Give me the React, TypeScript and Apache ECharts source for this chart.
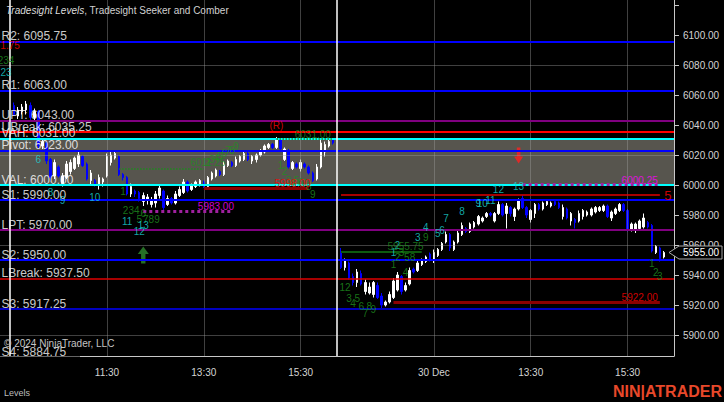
import React, { useEffect, useRef } from 'react';
import * as echarts from 'echarts';

const FONT = '"Liberation Sans", Arial, sans-serif';

// Pivot levels
const levelNames = ['R2', 'R1', 'UPT', 'UBreak', 'VAH', 'Pivot', 'VAL', 'S1', 'LPT', 'S2', 'LBreak', 'S3', 'S4'];
const levelValues = [6095.75, 6063, 6043, 6035.25, 6031, 6023, 6000, 5990, 5970, 5950, 5937.5, 5917.25, 5884.75];
const valueAreaHigh = 6031;
const valueAreaLow = 6000;

// 5-minute bars, [open, high, low, close]; day 1 = bars 1..80, day 2 = bars 82..162
const day1Bars: number[][] = [
  [6053, 6055, 6046, 6047], [6046, 6052, 6044, 6050], [6049, 6054, 6047, 6052], [6050, 6056, 6047, 6054],
  [6053, 6055, 6043, 6045], [6045, 6051, 6043, 6049], [6049, 6050, 6024, 6026], [6026, 6031, 6024, 6029],
  [6028, 6029, 6014, 6016], [6017, 6018, 6003, 6005], [6006, 6017, 6004, 6015], [6012, 6013, 6005, 6006],
  [6001, 6008, 5999, 6006], [6005, 6016, 6004, 6014], [6009, 6017, 6007, 6015], [6011, 6019, 6010, 6018],
  [6014, 6022, 6012, 6020], [6019, 6020, 6012, 6013], [6014, 6015, 6003, 6004], [6003, 6010, 6000, 6008],
  [6003, 6004, 5999, 6000], [6000, 6007, 5997, 6005], [6002, 6005, 5999, 6004], [6006, 6021, 6005, 6019],
  [6015, 6022, 6013, 6020], [6018, 6023, 6017, 6021], [6019, 6020, 6006, 6007], [6007, 6008, 6003, 6005],
  [6005, 6006, 5993, 5994], [5994, 6001, 5992, 5999], [5996, 5997, 5992, 5994], [5995, 5996, 5989, 5991],
  [5989, 5995, 5986, 5993], [5990, 5994, 5987, 5992], [5987, 5992, 5985, 5990], [5988, 5996, 5985, 5994],
  [5993, 6000, 5991, 5998], [5996, 5997, 5983, 5985], [5987, 5993, 5986, 5991], [5991, 5992, 5987, 5988],
  [5988, 5996, 5987, 5994], [5993, 5999, 5992, 5997], [5995, 6004, 5994, 6002], [6002, 6003, 5995, 5996],
  [5997, 6001, 5996, 6000], [5999, 6003, 5998, 6002], [6000, 6004, 5999, 6003], [6002, 6003, 5998, 5999],
  [5999, 6006, 5998, 6005], [6004, 6009, 6003, 6008], [6006, 6011, 6005, 6010], [6009, 6010, 6006, 6007],
  [6007, 6016, 6006, 6014], [6013, 6017, 6012, 6016], [6015, 6016, 6012, 6013], [6013, 6019, 6012, 6017],
  [6016, 6020, 6015, 6019], [6017, 6022, 6016, 6021], [6021, 6022, 6016, 6017], [6016, 6020, 6014, 6019],
  [6017, 6021, 6015, 6020], [6020, 6024, 6019, 6023], [6022, 6027, 6021, 6026], [6025, 6028, 6024, 6027],
  [6027, 6028, 6024, 6025], [6025, 6032, 6024, 6030], [6030, 6031, 6023, 6024], [6017, 6025, 6016, 6024],
  [6023, 6024, 6011, 6012], [6011, 6016, 6010, 6015], [6014, 6015, 6011, 6012], [6011, 6017, 6009, 6015],
  [6014, 6015, 6011, 6012], [6012, 6013, 6007, 6008], [6008, 6009, 6002, 6003], [6004, 6014, 6003, 6012],
  [6012, 6030, 6011, 6028], [6022, 6029, 6019, 6027], [6026, 6030, 6025, 6029], [6030, 6031, 6027, 6028],
];
const day2Bars: number[][] = [
  [5955, 5958, 5944, 5945], [5945, 5951, 5943, 5950], [5948, 5949, 5937, 5938], [5939, 5941, 5933, 5935],
  [5935, 5944, 5932, 5942], [5941, 5943, 5933, 5934], [5929, 5937, 5927, 5935], [5928, 5935, 5927, 5932],
  [5927, 5936, 5925, 5935], [5933, 5935, 5924, 5925], [5926, 5928, 5918, 5920], [5920, 5923, 5919, 5922],
  [5922, 5929, 5921, 5927], [5925, 5938, 5924, 5936], [5930, 5942, 5929, 5940], [5939, 5940, 5927, 5929],
  [5930, 5935, 5929, 5933], [5934, 5945, 5933, 5943], [5944, 5945, 5941, 5942], [5943, 5950, 5942, 5948],
  [5947, 5951, 5946, 5950], [5949, 5953, 5948, 5952], [5954, 5955, 5949, 5950], [5950, 5957, 5948, 5955],
  [5953, 5958, 5952, 5957], [5957, 5962, 5956, 5961], [5962, 5969, 5961, 5967], [5967, 5968, 5956, 5958],
  [5957, 5963, 5956, 5962], [5962, 5970, 5961, 5968], [5967, 5975, 5966, 5973], [5971, 5972, 5968, 5969],
  [5969, 5975, 5968, 5974], [5972, 5976, 5971, 5975], [5974, 5980, 5973, 5979], [5976, 5979, 5975, 5978],
  [5979, 5982, 5978, 5981], [5981, 5982, 5979, 5980], [5976, 5982, 5975, 5981], [5981, 5989, 5980, 5987],
  [5987, 5988, 5979, 5980], [5981, 5988, 5971, 5986], [5985, 5986, 5979, 5981], [5979, 5985, 5976, 5984],
  [5984, 5991, 5983, 5990], [5991, 5993, 5984, 5985], [5985, 5986, 5978, 5980], [5977, 5984, 5975, 5983],
  [5981, 5988, 5978, 5987], [5987, 5988, 5983, 5984], [5984, 5989, 5983, 5988], [5987, 5990, 5986, 5989],
  [5986, 5989, 5985, 5988], [5989, 5990, 5986, 5987], [5988, 5989, 5984, 5985], [5979, 5987, 5977, 5985],
  [5984, 5985, 5977, 5978], [5976, 5982, 5973, 5981], [5977, 5978, 5971, 5975], [5976, 5983, 5975, 5981],
  [5979, 5984, 5977, 5983], [5980, 5983, 5979, 5982], [5980, 5985, 5979, 5984], [5982, 5986, 5981, 5985],
  [5983, 5986, 5982, 5985], [5983, 5987, 5982, 5986], [5986, 5987, 5978, 5979], [5978, 5983, 5976, 5982],
  [5981, 5985, 5980, 5984], [5983, 5988, 5982, 5987], [5987, 5988, 5982, 5983], [5983, 5984, 5969, 5970],
  [5970, 5975, 5969, 5974], [5970, 5975, 5968, 5974], [5971, 5977, 5970, 5976], [5972, 5981, 5971, 5978],
  [5975, 5976, 5971, 5972], [5973, 5974, 5955, 5956], [5955, 5960, 5954, 5959], [5958, 5959, 5949, 5951],
  [5952, 5956, 5951, 5955],
];
const lastPrice = 5955;

// time axis
const axisTimeCats = ['D1 11:30', 'D1 13:30', 'D1 15:30', 'D2 11:30', 'D2 13:30', 'D2 15:30'];
const axisTimeLabels = ['11:30', '13:30', '15:30', '30 Dec', '13:30', '15:30'];
const sessionStarts = ['D1 09:30', 'D2 09:30'];
const gridPrices = [6080, 6020, 5960, 5900];

// annotations [bar, price, text]
const greenCounts: [number, number, string][] = [
  [-0.9, 6083.3, '234'], [28.0, 5996, '1'], [30.0, 5983.3, '234'], [31.8, 5977.3, '5'], [32.8, 5981, '6'],
  [34.9, 5976.7, '789'], [48.8, 6014.7, '2'], [49.8, 6016.7, '3'], [50.6, 6018, '4'], [51.5, 6019.3, '5'],
  [53.0, 6021.3, '6'], [54.2, 6022.7, '7'], [55.2, 6023.3, '8'], [56.3, 6026, '9'], [66.9, 6013.3, '1'],
  [67.9, 6008.7, '2'], [68.9, 6002.7, '3'], [70.1, 6001.3, '4'], [71.3, 6002.7, '5'], [72.3, 6002, '6'],
  [73.3, 6000.7, '7'], [74.3, 5999.3, '8'], [75.1, 5994, '9'], [82.5, 5932, '12'], [83.7, 5924.4, '3'],
  [84.8, 5921.1, '4'], [85.9, 5924.4, '5'], [86.7, 5918.9, '6'], [87.9, 5914.4, '7'], [88.8, 5918.9, '8'],
  [89.8, 5916.7, '9'], [94.9, 5946.7, '1'], [95.9, 5952, '2'], [96.8, 5955.3, '3'], [97.8, 5942, '4'],
  [99.1, 5952, '58'], [102.6, 5964.7, '9'], [158.8, 5948, '1'], [159.8, 5942, '2'], [160.8, 5939.3, '3'],
];
const cyanCounts: [number, number, string][] = [
  [-1.4, 6075.3, '23'], [6.9, 6017.3, '6'], [10.1, 5995.3, '8'], [12.8, 5989.5, '9'], [21.0, 5991.5, '10'],
  [28.9, 5975.5, '11'], [32.2, 5969.3, '12'], [33.0, 5972.7, '13'], [94.9, 5955.3, '1'], [95.9, 5960, '2'],
  [100.8, 5965.3, '3'], [102.6, 5972, '4'], [105.8, 5968, '5'], [106.8, 5970, '6'], [107.8, 5978, '7'],
  [112.0, 5982.2, '8'], [116.0, 5988, '9'], [117.4, 5988, '10'], [118.9, 5990, '11'], [120.9, 5997.3, '12'],
  [125.8, 5998.7, '13'],
];
const redNotes: [number, number, string][] = [
  [-0.5, 6093.3, '1.75'], [65.9, 6040, '(R)'], [69.9, 6000.7, '5998.00'], [156.3, 5924.7, '5922.00'],
];
const redBigNotes: [number, number, string][] = [[162.8, 5992.7, '5']];
const magentaNotes: [number, number, string][] = [[50.5, 5986, '5983.00'], [156.3, 6003.3, '6000.25']];
const greenNotes: [number, number, string][] = [
  [74.6, 6033.8, '6031.00'], [48.5, 6014.7, '6011.25'], [97.8, 5958.9, '5955.75'],
];
// drawn segments [fromBar, toBar, price]
const greenDottedSegs = [[27, 48, 6011], [66, 80, 6031]];
const darkRedSegs = [[48, 74, 5998], [95, 161, 5922]];
const magentaDottedSegs = [[33, 55, 5982.5], [127, 161, 6000.25]];
const darkGreenSegs = [[82, 102, 5955.75]];
const redSegs = [[82, 161, 5993.2]];
const upArrows = [[33, 5953.3]];
const downArrows = [[126, 6019.7]];

const PRE = 2;
const N = 167;
const pad = (n: number) => String(n).padStart(2, '0');
const hm = (m: number) => `${pad(Math.floor(m / 60))}:${pad(m % 60)}`;
const cats: string[] = [];
for (let i = 0; i < N; i++) {
  const k = i - PRE;
  if (k < 0) cats.push(`P${i}`);
  else if (k <= 80) cats.push(`D1 ${hm(570 + 5 * k)}`);
  else cats.push(`D2 ${hm(570 + 5 * (k - 81))}`);
}
const tickMap: Record<string, string> = {};
axisTimeCats.forEach((c, j) => (tickMap[c] = axisTimeLabels[j]));

const levelStyle: Record<string, [string, number]> = {
  R2: ['#0000ff', 2], R1: ['#0000ff', 2], UPT: ['#800080', 2], UBreak: ['#ff0000', 2], VAH: ['#00ffff', 2],
  Pivot: ['#0000ff', 2], VAL: ['#00ffff', 2], S1: ['#0000ff', 2], LPT: ['#800080', 2], S2: ['#0000ff', 2],
  LBreak: ['#e00000', 1.5], S3: ['#0000ff', 1.5], S4: ['#0000ff', 1.5],
};

const YMIN = 5886;
const YMAX = 6123.3333;

function segs(list: number[][], color: string, width: number, type: string) {
  return list.map(([a, b, v]) => [
    { coord: [a + PRE, v], lineStyle: { color, width, type } },
    { coord: [b + PRE, v] },
  ]);
}

function textSeries(list: [number, number, string][], color: string, size: number, z = 6): any {
  return {
    type: 'scatter', z, silent: true, clip: false, symbolSize: 1,
    itemStyle: { color: 'rgba(0,0,0,0)' },
    data: list.map(([k, p]) => [k + PRE, p]),
    label: {
      show: true, position: 'inside', color, fontSize: size, fontFamily: FONT,
      formatter: (p: any) => list[p.dataIndex][2],
    },
  };
}

function buildOption(): any {
  const candles = [
    ...day1Bars.map((b, j) => [j + 1 + PRE, b[0], b[3], b[2], b[1]]),
    ...day2Bars.map((b, j) => [j + 82 + PRE, b[0], b[3], b[2], b[1]]),
  ];
  const arrowPath = 'path://M5,0L10,7L7,7L7,16L3,16L3,7L0,7Z';
  return {
    animation: false,
    backgroundColor: '#000000',
    textStyle: { fontFamily: FONT },
    grid: { left: 0, right: 50, top: 0, bottom: 46 },
    xAxis: {
      type: 'category', data: cats, boundaryGap: true,
      axisLine: { lineStyle: { color: '#c8c8c8', width: 1 } },
      axisTick: {
        alignWithLabel: true, length: 5, lineStyle: { color: '#c8c8c8' },
        interval: (_i: number, v: string) => v in tickMap,
      },
      axisLabel: {
        interval: (_i: number, v: string) => v in tickMap,
        formatter: (v: string) => tickMap[v] || '',
        color: '#d4d4d4', fontSize: 10, margin: 11, fontFamily: FONT,
      },
      splitLine: { show: false },
    },
    yAxis: {
      type: 'value', position: 'right', min: YMIN, max: YMAX, minInterval: 20, maxInterval: 20,
      axisLine: { show: true, lineStyle: { color: '#c8c8c8' } },
      axisTick: { show: true, length: 5, lineStyle: { color: '#c8c8c8' } },
      axisLabel: {
        color: '#d4d4d4', fontSize: 10, margin: 9, showMinLabel: false, showMaxLabel: false, fontFamily: FONT,
        formatter: (v: number) => (v > 6110 || v < 5890 ? '' : v.toFixed(2)),
      },
      splitLine: { show: false },
    },
    series: [
      {
        type: 'scatter', data: [], z: 0, silent: true,
        markArea: {
          silent: true, itemStyle: { color: '#57554e' },
          data: [[{ yAxis: valueAreaHigh }, { yAxis: valueAreaLow }]],
        },
      },
      {
        type: 'scatter', data: [], z: 1, silent: true,
        markLine: {
          silent: true, symbol: ['none', 'none'], label: { show: false },
          lineStyle: { color: 'rgba(160,160,160,0.4)', width: 1, type: 'solid' },
          data: [...gridPrices.map((v) => ({ yAxis: v })), ...axisTimeCats.map((c) => ({ xAxis: c }))],
        },
      },
      {
        type: 'scatter', data: [], z: 2, silent: true,
        markLine: {
          silent: true, symbol: ['none', 'none'], label: { show: false },
          data: [
            ...levelValues
              .map((v, j) => ({ v, name: levelNames[j] }))
              .filter((o) => o.v > YMIN)
              .map((o) => ({
                yAxis: o.v,
                lineStyle: { color: levelStyle[o.name][0], width: levelStyle[o.name][1], type: 'solid' },
              })),
            ...sessionStarts.map((c) => ({ xAxis: c, lineStyle: { color: '#ffffff', width: 1.5, type: 'solid' } })),
            ...segs(greenDottedSegs, '#1f8a1f', 1.5, 'dotted'),
            ...segs(darkRedSegs, '#8b0000', 3, 'solid'),
            ...segs(darkGreenSegs, '#0d5a0d', 2, 'solid'),
            ...segs(redSegs, '#e00000', 1.5, 'solid'),
            ...segs(magentaDottedSegs, '#a020a0', 3, 'dotted'),
          ],
        },
      },
      {
        type: 'candlestick', z: 3, silent: true,
        data: candles,
        encode: { x: 0, y: [1, 2, 3, 4] },
        barWidth: 2,
        itemStyle: { color: '#ffffff', color0: '#0000ff', borderColor: '#ffffff', borderColor0: '#0000ff', borderWidth: 1 },
      },
      {
        type: 'scatter', z: 4, silent: true, symbol: arrowPath, symbolSize: [11, 17],
        itemStyle: { color: '#2e8b2e' },
        data: upArrows.map(([k, p]) => [k + PRE, p]),
      },
      {
        type: 'scatter', z: 4, silent: true, symbol: arrowPath, symbolSize: [9, 16], symbolRotate: 180,
        itemStyle: { color: '#ff2020' },
        data: downArrows.map(([k, p]) => [k + PRE, p]),
      },
      textSeries(greenCounts, '#1f8f1f', 10),
      textSeries(cyanCounts, '#19d2d2', 10),
      textSeries(redNotes, '#ff0000', 10),
      textSeries(redBigNotes, '#ff0000', 13),
      textSeries(magentaNotes, '#ff00ff', 10),
      textSeries(greenNotes, '#1f8a1f', 10),
      {
        type: 'scatter', z: 8, silent: true, clip: false, symbolSize: 1,
        itemStyle: { color: 'rgba(0,0,0,0)' },
        data: levelValues.map((v) => [0, v]),
        label: {
          show: true, position: [0, 1], align: 'left', verticalAlign: 'bottom',
          color: '#ffffff', fontSize: 12, fontFamily: FONT,
          formatter: (p: any) => `${levelNames[p.dataIndex]}: ${levelValues[p.dataIndex].toFixed(2)}`,
        },
      },
    ],
  };
}

export default function App() {
  const ref = useRef<HTMLDivElement>(null);
  useEffect(() => {
    document.body.style.margin = '0';
    document.body.style.background = '#000';
    const chart = echarts.init(ref.current!, null, { renderer: 'svg' });
    chart.setOption(buildOption());
    const lastIdx = 81 + day2Bars.length + PRE;
    const pt = chart.convertToPixel({ xAxisIndex: 0, yAxisIndex: 0 }, [lastIdx, lastPrice]) as number[];
    const py = pt[1];
    chart.setOption({
      graphic: [
        {
          type: 'text', x: 6, y: 10, z: 100,
          style: {
            text: '{a|Tradesight Levels}{b|, Tradesight Seeker and Comber}',
            verticalAlign: 'middle', font: `10px ${FONT}`,
            rich: {
              a: { fontStyle: 'italic', fill: '#dcdcdc', fontSize: 10, fontFamily: FONT },
              b: { fill: '#d0d0d0', fontSize: 10, fontFamily: FONT },
            },
          },
        },
        {
          type: 'text', x: 4, y: 343, z: 100,
          style: { text: '© 2024 NinjaTrader, LLC', fill: '#c4c4c4', fontSize: 10, fontFamily: FONT, verticalAlign: 'middle' },
        },
        { type: 'rect', z: 100, shape: { x: 0, y: 356.6, width: 80, height: 10 }, style: { fill: '#000' } },
        {
          type: 'text', x: 4, y: 393, z: 100,
          style: { text: 'Levels', fill: '#bcbcbc', fontSize: 9, fontFamily: FONT, verticalAlign: 'middle' },
        },
        {
          type: 'text', x: 722, y: 391, z: 100,
          style: {
            text: 'NIN|ATRADER', fill: '#e8482a', fontSize: 16, fontWeight: 'bold', fontFamily: FONT,
            align: 'right', verticalAlign: 'middle',
          },
        },
        {
          type: 'polygon', z: 100,
          shape: { points: [[669, py], [679, py - 6.5], [722, py - 6.5], [722, py + 6.5], [679, py + 6.5]] },
          style: { fill: '#000', stroke: '#a8a8a8', lineWidth: 1 },
        },
        {
          type: 'text', x: 683, y: py, z: 101,
          style: { text: lastPrice.toFixed(2), fill: '#ffffff', fontSize: 10, fontFamily: FONT, verticalAlign: 'middle' },
        },
      ],
    });
    return () => chart.dispose();
  }, []);
  return <div ref={ref} style={{ width: 724, height: 402, position: 'fixed', left: 0, top: 0, background: '#000' }} />;
}
